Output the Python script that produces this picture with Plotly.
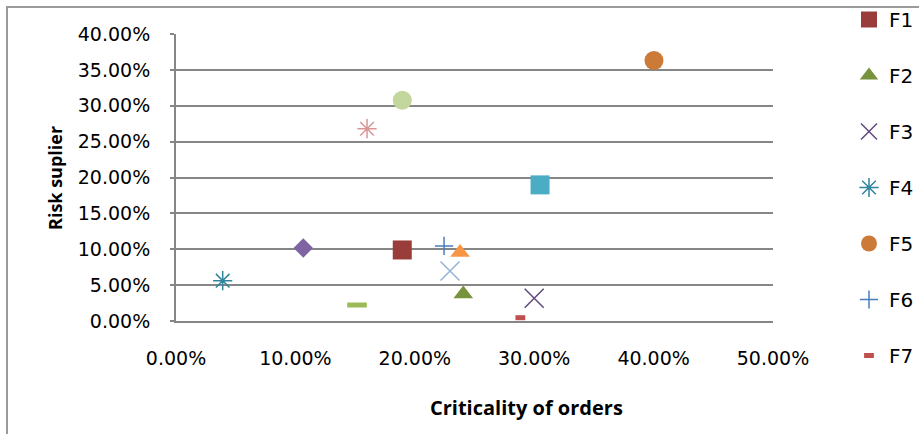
import plotly.graph_objects as go

# ---- data ----
names = ["F1", "F2", "F3", "F4", "F5", "F6", "F7",
         "F8", "F9", "F10", "F11", "F12", "F13", "F14"]
criticality = [0.1895, 0.2406, 0.3000, 0.0391, 0.4003, 0.2245, 0.2884,
               0.1516, 0.1066, 0.3049, 0.2379, 0.2295, 0.1600, 0.1895]
risk = [0.0990, 0.0377, 0.0316, 0.0562, 0.3630, 0.1046, 0.0046,
        0.0223, 0.1018, 0.1897, 0.0955, 0.0697, 0.2680, 0.3077]
in_legend = [True, True, True, True, True, True, True,
             False, False, False, False, False, False, False]

x_ticks = [0, 0.1, 0.2, 0.3, 0.4, 0.5]
y_ticks = [0, 0.05, 0.10, 0.15, 0.20, 0.25, 0.30, 0.35, 0.40]

# ---- styles ----
colors = ["#9A3C3A", "#77933C", "#5F497A", "#31859C", "#CC7A38", "#4A7EBB", "#C0504D",
          "#9BBB59", "#8064A2", "#4BACC6", "#F79646", "#95B3D7", "#D99694", "#C3D69B"]
symbols = ["square", "triangle-up", "x-thin-open", "asterisk-open", "circle",
           "cross-thin-open", "line-ew-open", "line-ew-open", "diamond", "square",
           "triangle-up", "x-thin-open", "asterisk-open", "circle"]
sizes = [19, 17, 19, 16, 19, 13, 7, 14, 15, 19, 17, 19, 16, 19]
lwidths = [0, 0, 1.5, 1.5, 0, 1.5, 5, 5, 0, 0, 0, 1.5, 1.5, 0]

FONT = "DejaVu Sans"
TITLE_FONT = "Open Sans"
L, R, T, B = 176, 146, 34, 113
W, H = 919, 434
PW, PH = W - L - R, H - T - B


def px_x(p):
    return (p - L) / PW


def px_y(p):
    return (H - B - p) / PH


fig = go.Figure()
for i, n in enumerate(names):
    fig.add_trace(go.Scatter(
        x=[criticality[i]], y=[risk[i]], name=n, mode="markers",
        legendgroup=n, showlegend=in_legend[i],
        marker=dict(symbol=symbols[i], size=sizes[i], color=colors[i],
                    line=dict(color=colors[i], width=lwidths[i])),
    ))

fig.update_layout(
    width=W, height=H,
    margin=dict(l=L, r=R, t=T, b=B, autoexpand=False),
    paper_bgcolor="white", plot_bgcolor="white",
    font=dict(family=FONT, size=19, color="#000000"),
    showlegend=True,
    legend=dict(x=px_x(849), y=px_y(0), xanchor="left", yanchor="top",
                font=dict(size=20), tracegroupgap=27, maxheight=430,
                bgcolor="rgba(0,0,0,0)"),
    xaxis=dict(range=[0, 0.5], tickvals=x_ticks, tickformat=".2%",
               showgrid=False, zeroline=False, showline=True,
               linecolor="#868686", linewidth=2, ticks="", ticklen=0,
               ticklabelstandoff=19),
    yaxis=dict(range=[0, 0.4], tickvals=y_ticks, tickformat=".2%",
               showgrid=True, gridcolor="#868686", gridwidth=2,
               zeroline=False, showline=True, linecolor="#868686", linewidth=2,
               ticks="outside", ticklen=4, tickcolor="#868686", tickwidth=2,
               ticklabelstandoff=16),
    annotations=[
        dict(text="<b>Criticality of orders</b>", xref="paper", yref="paper",
             x=px_x(526), y=px_y(407), showarrow=False,
             font=dict(family=TITLE_FONT, size=20), xanchor="center", yanchor="middle"),
        dict(text="<b>Risk suplier</b>", xref="paper", yref="paper",
             x=px_x(55), y=px_y(178), showarrow=False, textangle=-90,
             font=dict(family=TITLE_FONT, size=18), xanchor="center", yanchor="middle"),
    ],
    shapes=[
        dict(type="rect", xref="paper", yref="paper", layer="below",
             x0=px_x(7), x1=px_x(940), y0=px_y(445), y1=px_y(7),
             line=dict(color="#9A9A9A", width=2), fillcolor="rgba(0,0,0,0)"),
    ],
)

fig.write_html("out.html", config={"displayModeBar": False},
               post_script="document.body.style.margin='0';document.body.style.overflow='hidden';")
